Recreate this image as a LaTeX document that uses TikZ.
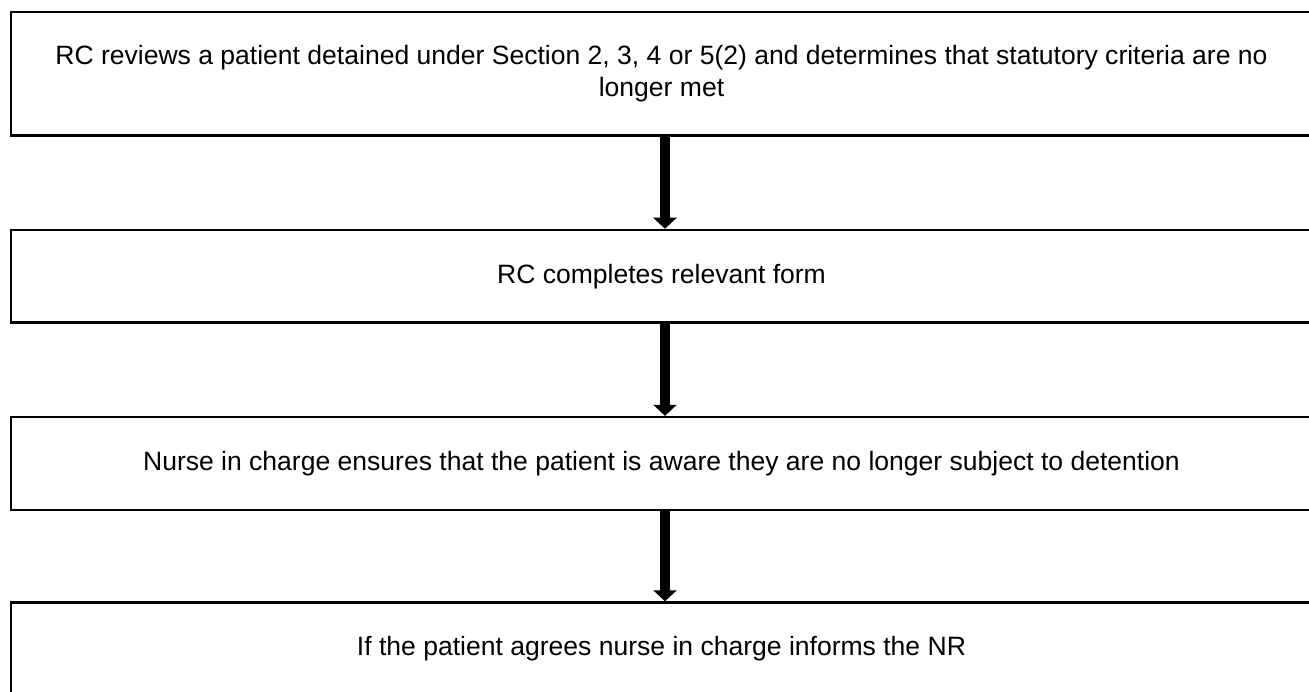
\documentclass[tikz,border=0pt]{standalone}
\usepackage{fontspec}
\setmainfont{Liberation Sans}
\usepackage{tikz}
\usetikzlibrary{shapes,arrows.meta,positioning}
\tikzstyle{stepnode} = [rectangle, draw, line width=1.4pt, minimum width=26.02cm, align=center, font=\fontsize{15.1}{18.4}\selectfont]
\tikzstyle{line} = [draw, line width=5.7pt, -{Triangle[width=0.46cm, length=0.22cm]}]

\begin{document}
\begin{tikzpicture}[x=0.02cm, y=-0.02cm]
			\useasboundingbox (0,0) rectangle (1309,691);
			\node [stepnode, minimum height=2.47cm] (review) at (661.5, 73.75) {RC reviews a patient detained under Section 2, 3, 4 or 5(2) and determines that statutory criteria are no\\longer met};
			\node [stepnode, minimum height=1.854cm] (form) at (661.5, 276.3) {RC completes relevant form};
			\node [stepnode, minimum height=1.86cm] (aware) at (661.5, 463.5) {Nurse in charge ensures that the patient is aware they are no longer subject to detention};
			\node [stepnode, minimum height=1.86cm] (inform) at (661.5, 649) {If the patient agrees nurse in charge informs the NR};
			
			\path [line] ([xshift=0.07cm]review.south) -- ([xshift=0.07cm]form.north);
			\path [line] ([xshift=0.07cm]form.south) -- ([xshift=0.07cm]aware.north);
			\path [line] ([xshift=0.07cm]aware.south) -- ([xshift=0.07cm]inform.north);
		\end{tikzpicture}
\end{document}
